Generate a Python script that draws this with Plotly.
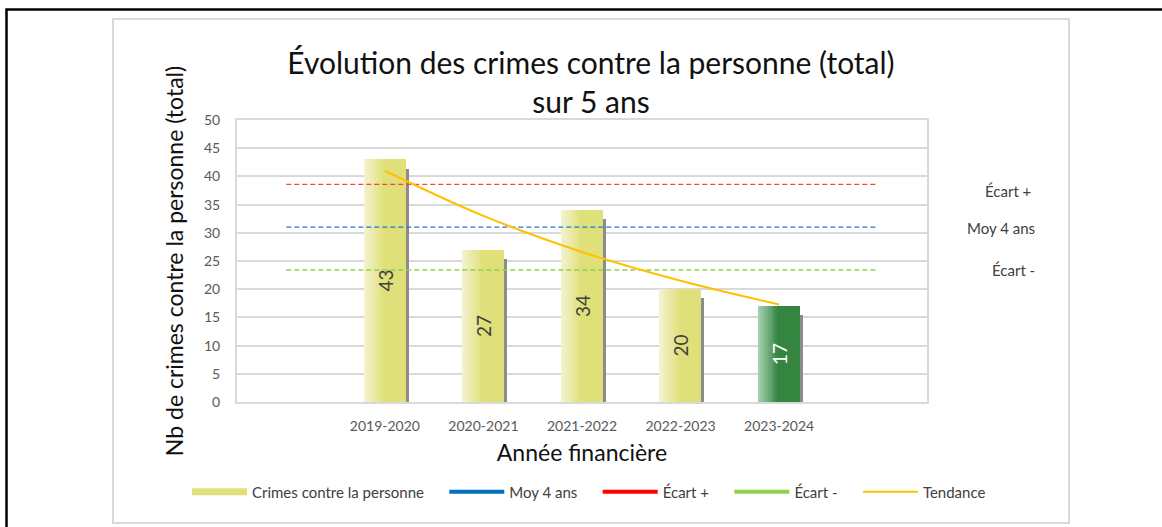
import plotly.graph_objects as go

# ---- data ----
years = ["2019-2020", "2020-2021", "2021-2022", "2022-2023", "2023-2024"]
crimes = [43, 27, 34, 20, 17]
tendance = [41.0, 33.0, 26.6, 21.5, 17.3]
moy_4_ans = 31.0
ecart_plus = 38.6
ecart_moins = 23.4
y_ticks = [0, 5, 10, 15, 20, 25, 30, 35, 40, 45, 50]

# ---- styles ----
FONT = "Lato"
bar_base_colors = [(224, 224, 122)] * 4 + [(51, 133, 64)]
bar_light_colors = [(243, 242, 204)] * 4 + [(165, 204, 172)]
text_colors = ["#404040"] * 4 + ["#FFFFFF"]
NB = "\u00a0"

W, H = 1162, 527
L, R, T, B = 237, 1162 - 927, 120, 527 - 402

pos = list(range(1, len(years) + 1))
span = [0, len(years) + 1]
BW = 0.42
OFF = -BW / 2


def rgb(c):
    return "rgb(%d,%d,%d)" % c


def mix(a, b, t):
    return tuple(round(a[i] + (b[i] - a[i]) * t) for i in range(3))


fig = go.Figure()

# shadow
fig.add_trace(go.Bar(
    x=pos, y=crimes, base=-1.6, width=BW, offset=OFF + 0.03,
    marker=dict(color="#8C8C8C", line=dict(width=0)),
    showlegend=False, hoverinfo="skip"))

# main bars
fig.add_trace(go.Bar(
    x=pos, y=crimes, width=BW, offset=OFF, name="Crimes contre la personne",
    marker=dict(color=[rgb(c) for c in bar_base_colors], line=dict(width=0)),
    showlegend=False, legendgroup="crimes"))

# gradient strips on the left side of each bar
N = 10
sw = 0.019
for k in range(N):
    t = (k + 1) / N
    fig.add_trace(go.Bar(
        x=pos, y=crimes, width=(N - k) * sw, offset=OFF,
        marker=dict(color=[rgb(mix(b, l, t)) for b, l in zip(bar_base_colors, bar_light_colors)],
                    line=dict(width=0)),
        showlegend=False, hoverinfo="skip"))

# value labels
fig.add_trace(go.Bar(
    x=pos, y=crimes, width=BW, offset=OFF,
    marker=dict(color="rgba(0,0,0,0)", line=dict(width=0)),
    text=[str(v) for v in crimes], textposition="inside", insidetextanchor="middle",
    textangle=-90, textfont=dict(family=FONT, size=19, color=text_colors),
    showlegend=False, hoverinfo="skip"))

# legend swatch for the bars
fig.add_trace(go.Scatter(
    x=[None], y=[None], mode="lines", name="Crimes contre la personne" + NB * 4,
    legendgroup="crimes", line=dict(color=rgb(bar_base_colors[0]), width=7)))

# reference lines (dashed)
ref = [("Moy 4 ans", moy_4_ans, "#1F77D8", "#0070C0"),
       ("Écart +", ecart_plus, "#FF4040", "#FF0000"),
       ("Écart -", ecart_moins, "#92D050", "#92D050")]
for name, val, col, legcol in ref:
    fig.add_trace(go.Scatter(
        x=span, y=[val, val], mode="lines",
        line=dict(color=col, width=1.3, dash="5px,3px"),
        showlegend=False, legendgroup=name, hoverinfo="skip"))
    fig.add_trace(go.Scatter(
        x=[None], y=[None], mode="lines", name=name + NB * 4, legendgroup=name,
        line=dict(color=legcol, width=4)))

# trend
fig.add_trace(go.Scatter(
    x=pos, y=tendance, mode="lines", name="Tendance",
    line=dict(color="#FFC000", width=2, shape="spline")))

GRID = "#D9D9D9"
fig.update_layout(
    width=W, height=H,
    margin=dict(l=L, r=R, t=T, b=B, autoexpand=False),
    paper_bgcolor="white", plot_bgcolor="white",
    barmode="overlay", bargap=0,
    font=dict(family=FONT, color="#404040"),
    title=dict(text="Évolution des crimes contre la personne (total)<br>sur 5 ans",
               x=0.513, xref="paper", xanchor="center",
               y=1 - 74 / H, yref="container", yanchor="middle",
               font=dict(family=FONT, size=30, color="#111111")),
    xaxis=dict(range=[-0.5, len(years) + 1.5], tickvals=pos, ticktext=years,
               showgrid=False, zeroline=False, showline=True, linecolor=GRID,
               linewidth=2, mirror=True, ticks="", ticklabelstandoff=10,
               tickfont=dict(family=FONT, size=14, color="#595959"),
               title=dict(text="Année financière", standoff=12,
                          font=dict(family=FONT, size=23, color="#111111"))),
    yaxis=dict(range=[0, 50], tickvals=y_ticks, showgrid=True, gridcolor=GRID,
               gridwidth=2, zeroline=False, showline=True, linecolor=GRID,
               linewidth=2, mirror=True, ticks="", ticklabelstandoff=12,
               tickfont=dict(family=FONT, size=14, color="#595959"),
               title=dict(text="Nb de crimes contre la personne (total)", standoff=14,
                          font=dict(family=FONT, size=23, color="#111111"))),
    legend=dict(orientation="h", x=(187 - L) / 690, xanchor="left", xref="paper",
                y=(402 - 492) / 282, yanchor="middle", yref="paper",
                bgcolor="rgba(0,0,0,0)",
                font=dict(family=FONT, size=15, color="#404040"),
                itemwidth=55, traceorder="normal"),
    showlegend=True,
)

# side labels for reference lines
for name, val, xp, ys in [("Écart +", ecart_plus, 1.117, -7),
                          ("Moy 4 ans", moy_4_ans, 1.107, -1),
                          ("Écart -", ecart_moins, 1.125, 0)]:
    fig.add_annotation(text=name, x=xp, xref="paper", y=val, yref="y", yshift=ys,
                       showarrow=False, xanchor="center", yanchor="middle",
                       font=dict(family=FONT, size=15, color="#404040"))

# chart frame (grey) and outer black frame
fig.add_shape(type="rect", xref="paper", yref="paper",
              x0=(113 - L) / 690, x1=(1069 - L) / 690,
              y0=(402 - 523) / 282, y1=(402 - 19) / 282,
              line=dict(color=GRID, width=2), layer="below")
fig.add_shape(type="rect", xref="paper", yref="paper",
              x0=(6.5 - L) / 690, x1=(1200 - L) / 690,
              y0=(402 - 560) / 282, y1=(402 - 9.5) / 282,
              line=dict(color="black", width=2.5), layer="below")

fig.write_html("out.html", config={"displayModeBar": False},
               post_script="document.body.style.margin='0';")
